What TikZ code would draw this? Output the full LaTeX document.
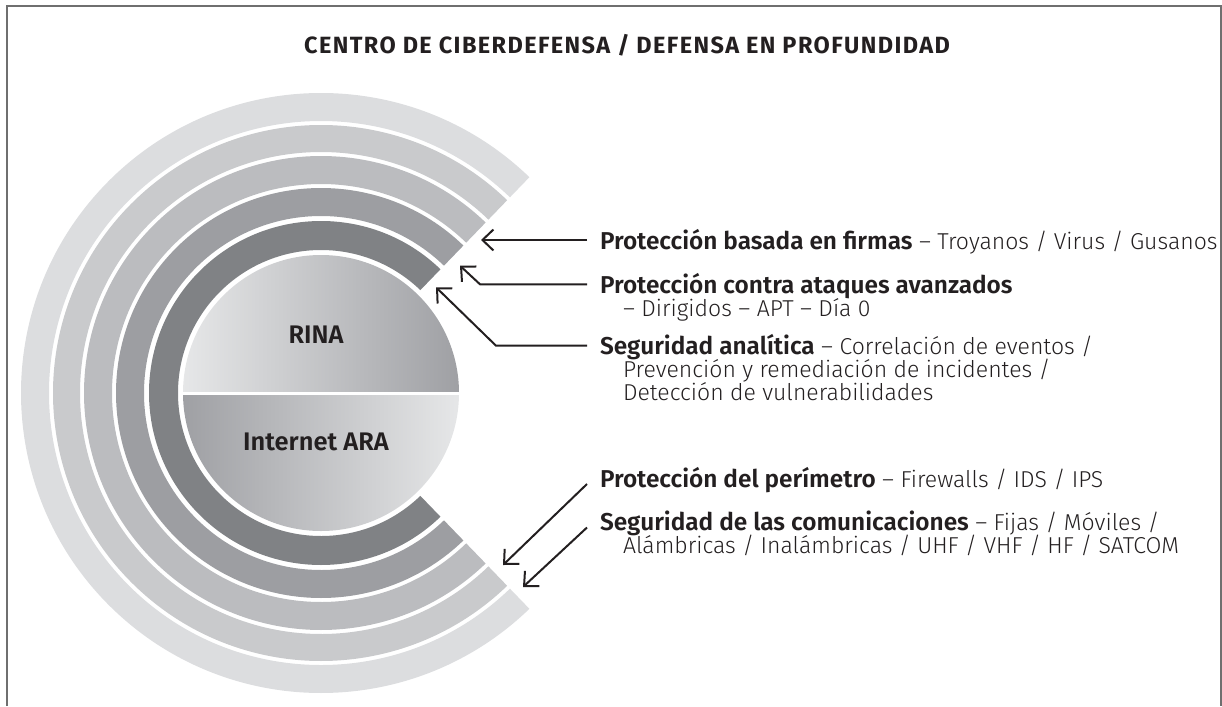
\documentclass[tikz,border=0pt]{standalone}
\usepackage{fontspec}
\setmainfont{Fira Sans}[UprightFont = * Light, BoldFont = * SemiBold, BoldFeatures = {Scale = 1.06}]
\newfontfamily\heavyfont{Fira Sans}[UprightFont = * Bold, LetterSpace = 6]
\usetikzlibrary{arrows.meta}

\definecolor{ringA}{HTML}{DCDDDF}
\definecolor{ringB}{HTML}{C9CACC}
\definecolor{ringC}{HTML}{BBBCBF}
\definecolor{ringD}{HTML}{9D9EA2}
\definecolor{ringE}{HTML}{808285}
\definecolor{discL}{HTML}{E6E7E8}
\definecolor{discD}{HTML}{9FA0A4}
\definecolor{ink}{HTML}{231F20}
\definecolor{frame}{HTML}{6F6F6F}

\begin{document}
\begin{tikzpicture}[x = 1pt, y = 1pt, line width = 2pt,
                    arr/.style = {draw = ink, -{Straight Barb[length = 11pt, width = 21pt]}},
                    txt/.style = {anchor = base west, inner xsep = 12pt, inner ysep = 0pt,
                                  text height = 18pt, text depth = 0pt, text = ink,
                                  font = \fontsize{23pt}{23pt}\selectfont},
                    core/.style = {text = ink, font = \fontsize{24pt}{25pt}\selectfont\bfseries}]

\useasboundingbox (0,0) rectangle (1222,-706);

% frame
\draw[frame, line width = 1.5pt] (7,-706) -- (7,-6) -- (1221,-6) -- (1221,-706);

\node (TT) at (627,-54)[anchor = base, inner sep = 0pt, text = ink,
      font = \fontsize{23.5pt}{24pt}\heavyfont]{CENTRO DE CIBERDEFENSA / DEFENSA EN PROFUNDIDAD};

% rings
\fill[ringA, shift = {(321,-393)}] (46:300) arc[start angle = 46, end angle = 314, radius = 300]
     -- (314:272) arc[start angle = 314, end angle = 46, radius = 272] -- cycle;
\fill[ringB, shift = {(321,-393)}] (46:268) arc[start angle = 46, end angle = 314, radius = 268]
     -- (314:241) arc[start angle = 314, end angle = 46, radius = 241] -- cycle;
\fill[ringC, shift = {(321,-393)}] (46:237) arc[start angle = 46, end angle = 314, radius = 237]
     -- (314:209) arc[start angle = 314, end angle = 46, radius = 209] -- cycle;
\fill[ringD, shift = {(321,-393)}] (46:205) arc[start angle = 46, end angle = 314, radius = 205]
     -- (314:177) arc[start angle = 314, end angle = 46, radius = 177] -- cycle;
\fill[ringE, shift = {(321,-393)}] (46:172) arc[start angle = 46, end angle = 314, radius = 172]
     -- (314:143) arc[start angle = 314, end angle = 46, radius = 143] -- cycle;

% core
\shade[left color = discL, right color = discD] (459,-393) arc[start angle = 0, end angle = 180, radius = 138] -- cycle;
\shade[left color = discD, right color = discL] (459,-393) arc[start angle = 0, end angle = -180, radius = 138] -- cycle;
\draw[white, line width = 3pt] (181,-393) -- (461,-393);

\node (R1) at (316,-335)[core]{RINA};
\node (R2) at (316,-442)[core]{Internet ARA};

% layers
\node (L1) at (587,-249)[txt]{\textbf{Protección basada en firmas} – Troyanos / Virus / Gusanos};
\node (L2) at (587,-293.3)[txt]{\textbf{Protección contra ataques avanzados}};
\node (L21) at (610,-316.3)[txt]{– Dirigidos – APT – Día 0};
\node (L3) at (587,-354.7)[txt]{\textbf{Seguridad analítica} – Correlación de eventos /};
\node (L31) at (610,-377.7)[txt]{Prevención y remediación de incidentes /};
\node (L32) at (610,-400.7)[txt]{Detección de vulnerabilidades};
\node (L4) at (587,-487)[txt]{\textbf{Protección del perímetro} – Firewalls / IDS / IPS};
\node (L5) at (587,-530.5)[txt]{\textbf{Seguridad de las comunicaciones} – Fijas / Móviles /};
\node (L51) at (610,-553.5)[txt]{Alámbricas / Inalámbricas / UHF / VHF / HF / SATCOM};

% arrow tips
\coordinate (T1) at (481,-240);
\coordinate (T2) at (460,-265.7);
\coordinate (T3) at (436,-287.3);
\coordinate (T4) at (503,-565);
\coordinate (T5) at (523,-587);

\draw[arr] (L1.west) -- (T1);
\draw[arr] (L2.west) -- ++(-107,0) -- (T2);
\draw[arr] (L3.west) -- ++(-91,0) -- (T3);
\draw[arr] ([yshift = 3pt]L4.base west) -- (T4);
\draw[arr] ([yshift = 3pt]L5.base west) -- (T5);

\end{tikzpicture}
\end{document}
